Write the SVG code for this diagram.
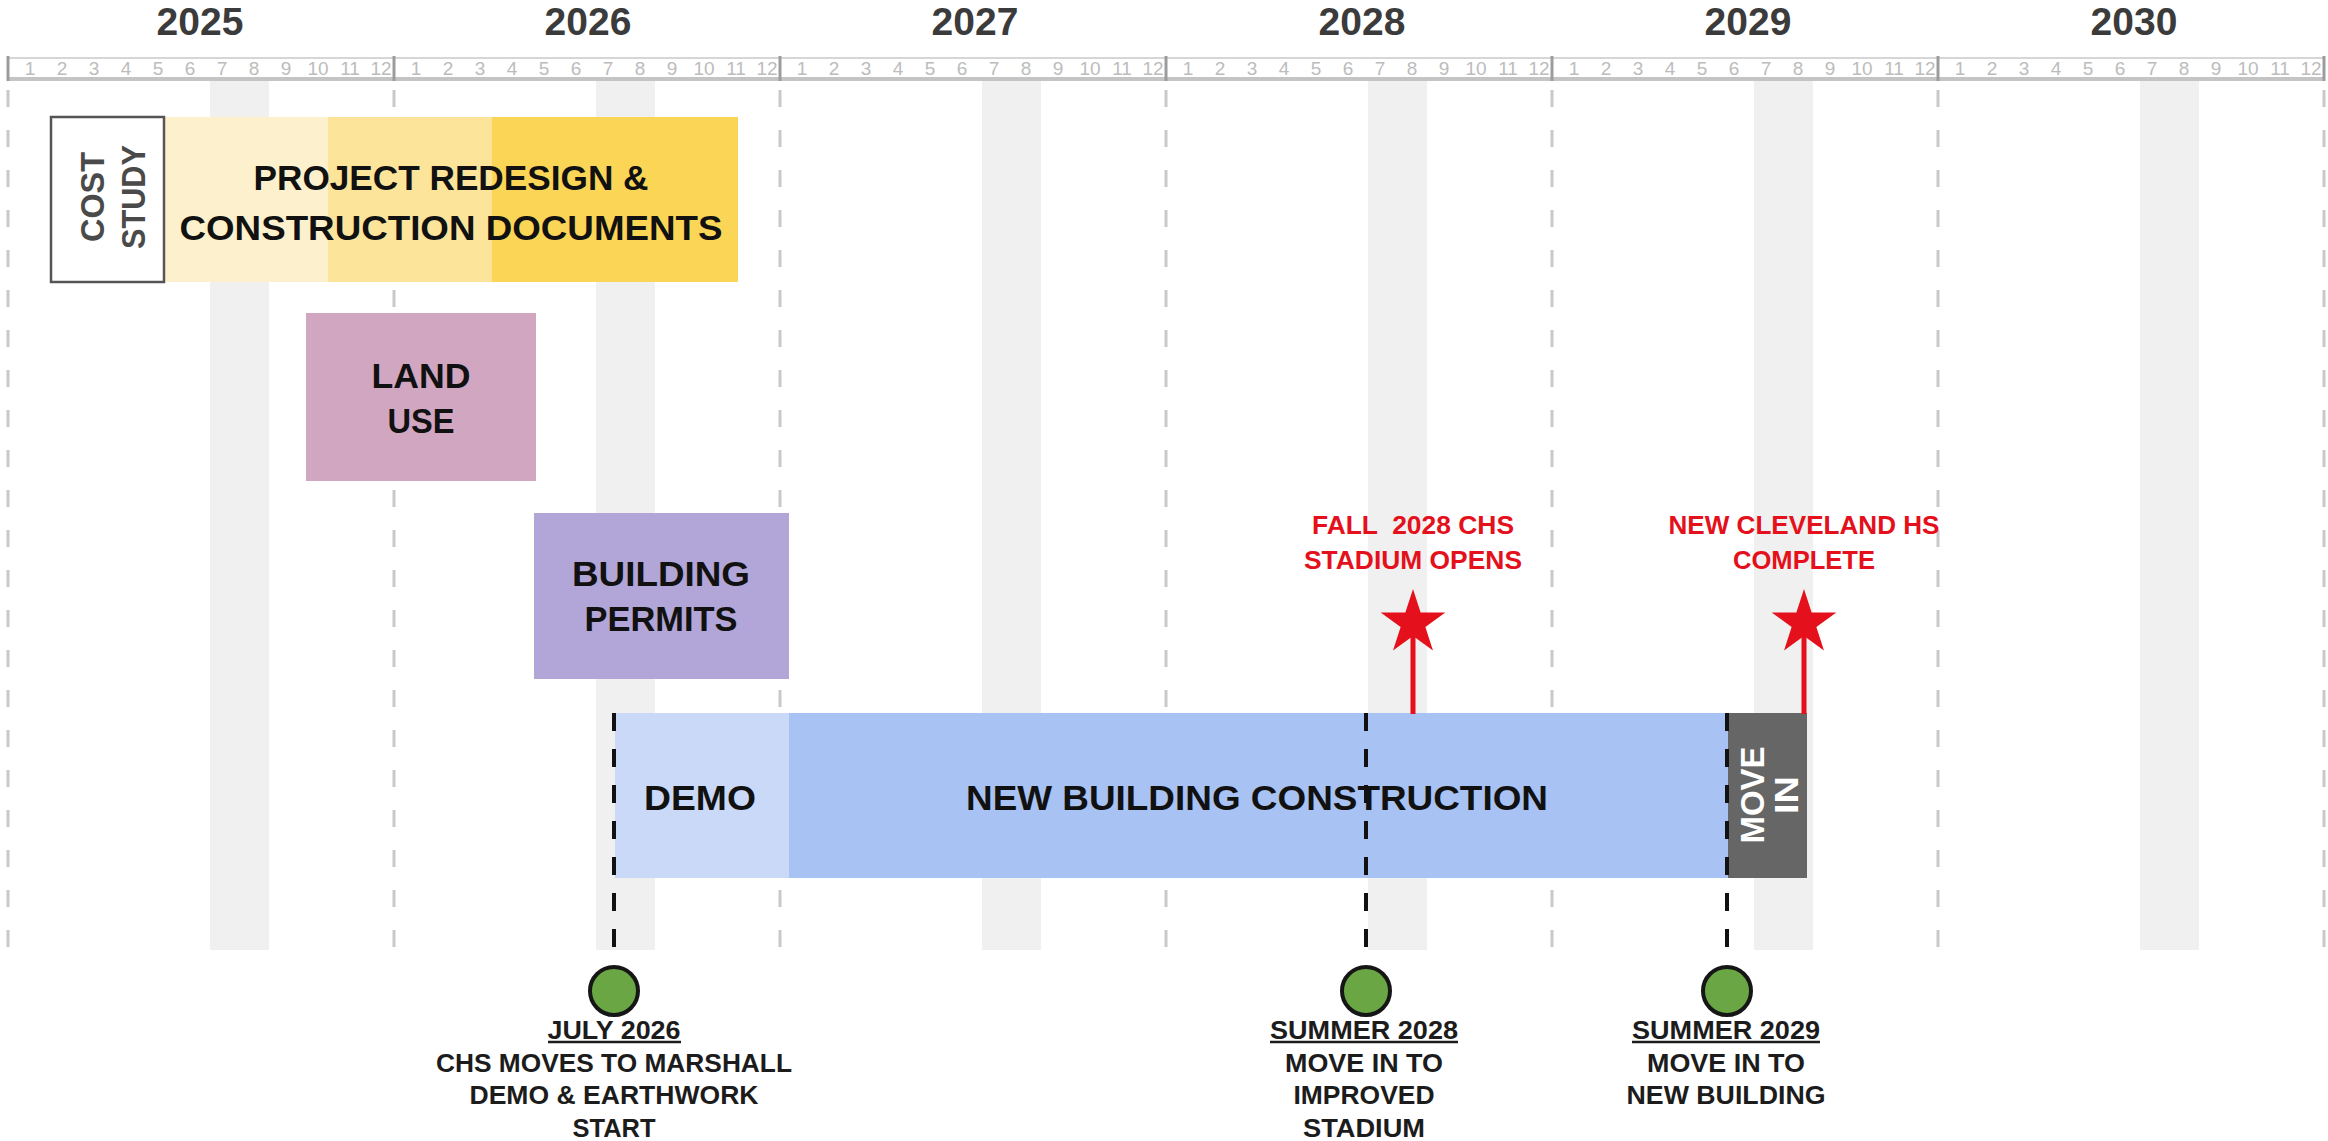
<svg xmlns="http://www.w3.org/2000/svg" width="2328" height="1141" viewBox="0 0 2328 1141">
<defs>
<style>
text{font-family:"Liberation Sans",Arial,sans-serif;font-weight:700}
.yr{font-size:39px;fill:#3b3b3b;text-anchor:middle}
.mo{font-size:19px;font-weight:400;fill:#bcbcbc;text-anchor:middle}
.band{fill:#f0f0f0}
.grid{stroke:#c9c9c9;stroke-width:3;stroke-dasharray:17 23;fill:none}
.mile{stroke:#111;stroke-width:4;stroke-dasharray:18 18;fill:none}
.lbl{font-size:35px;fill:#111;text-anchor:middle}
.red{font-size:26px;fill:#e4101b;text-anchor:middle}
.ms{font-size:25px;fill:#1c1c1c;text-anchor:middle}
.stem{stroke:#e4101b;stroke-width:5}
.dot{fill:#6aa744;stroke:#161616;stroke-width:4}
.ul{stroke:#1c1c1c;stroke-width:2.5}
.rtop{stroke:#d6d6d6;stroke-width:2}
.rbot{stroke:#c4c4c4;stroke-width:4}
.rsep{stroke:#9c9c9c;stroke-width:3}
</style>
<polygon id="star" points="0,-34 7.64,-10.52 32.34,-10.51 12.36,4.02 19.98,27.51 0,13 -19.98,27.51 -12.36,4.02 -32.34,-10.51 -7.64,-10.52" fill="#e4101b"/>
</defs>
<rect x="0" y="0" width="2328" height="1141" fill="#ffffff"/>

<g id="summer-bands">
<rect class="band" x="210" y="80" width="59" height="870"/>
<rect class="band" x="596" y="80" width="59" height="870"/>
<rect class="band" x="982" y="80" width="59" height="870"/>
<rect class="band" x="1368" y="80" width="59" height="870"/>
<rect class="band" x="1754" y="80" width="59" height="870"/>
<rect class="band" x="2140" y="80" width="59" height="870"/>
</g>

<g id="year-gridlines">
<line class="grid" x1="8" y1="90" x2="8" y2="948"/>
<line class="grid" x1="394" y1="90" x2="394" y2="948"/>
<line class="grid" x1="780" y1="90" x2="780" y2="948"/>
<line class="grid" x1="1166" y1="90" x2="1166" y2="948"/>
<line class="grid" x1="1552" y1="90" x2="1552" y2="948"/>
<line class="grid" x1="1938" y1="90" x2="1938" y2="948"/>
<line class="grid" x1="2324" y1="90" x2="2324" y2="948"/>
</g>

<g id="ruler">
<rect x="8" y="57" width="2316" height="22" fill="#ffffff"/>
<line class="rtop" x1="8" y1="58" x2="2324" y2="58"/>
<line class="rbot" x1="8" y1="79" x2="2324" y2="79"/>
<line class="rsep" x1="8" y1="56" x2="8" y2="81"/>
<line class="rsep" x1="394" y1="56" x2="394" y2="81"/>
<line class="rsep" x1="780" y1="56" x2="780" y2="81"/>
<line class="rsep" x1="1166" y1="56" x2="1166" y2="81"/>
<line class="rsep" x1="1552" y1="56" x2="1552" y2="81"/>
<line class="rsep" x1="1938" y1="56" x2="1938" y2="81"/>
<line class="rsep" x1="2324" y1="56" x2="2324" y2="81"/>
<g class="months">
<text class="mo" x="30" y="75">1</text><text class="mo" x="62" y="75">2</text><text class="mo" x="94" y="75">3</text><text class="mo" x="126" y="75">4</text><text class="mo" x="158" y="75">5</text><text class="mo" x="190" y="75">6</text><text class="mo" x="222" y="75">7</text><text class="mo" x="254" y="75">8</text><text class="mo" x="286" y="75">9</text><text class="mo" x="318" y="75">10</text><text class="mo" x="350" y="75">11</text><text class="mo" x="381" y="75">12</text>
<text class="mo" x="416" y="75">1</text><text class="mo" x="448" y="75">2</text><text class="mo" x="480" y="75">3</text><text class="mo" x="512" y="75">4</text><text class="mo" x="544" y="75">5</text><text class="mo" x="576" y="75">6</text><text class="mo" x="608" y="75">7</text><text class="mo" x="640" y="75">8</text><text class="mo" x="672" y="75">9</text><text class="mo" x="704" y="75">10</text><text class="mo" x="736" y="75">11</text><text class="mo" x="767" y="75">12</text>
<text class="mo" x="802" y="75">1</text><text class="mo" x="834" y="75">2</text><text class="mo" x="866" y="75">3</text><text class="mo" x="898" y="75">4</text><text class="mo" x="930" y="75">5</text><text class="mo" x="962" y="75">6</text><text class="mo" x="994" y="75">7</text><text class="mo" x="1026" y="75">8</text><text class="mo" x="1058" y="75">9</text><text class="mo" x="1090" y="75">10</text><text class="mo" x="1122" y="75">11</text><text class="mo" x="1153" y="75">12</text>
<text class="mo" x="1188" y="75">1</text><text class="mo" x="1220" y="75">2</text><text class="mo" x="1252" y="75">3</text><text class="mo" x="1284" y="75">4</text><text class="mo" x="1316" y="75">5</text><text class="mo" x="1348" y="75">6</text><text class="mo" x="1380" y="75">7</text><text class="mo" x="1412" y="75">8</text><text class="mo" x="1444" y="75">9</text><text class="mo" x="1476" y="75">10</text><text class="mo" x="1508" y="75">11</text><text class="mo" x="1539" y="75">12</text>
<text class="mo" x="1574" y="75">1</text><text class="mo" x="1606" y="75">2</text><text class="mo" x="1638" y="75">3</text><text class="mo" x="1670" y="75">4</text><text class="mo" x="1702" y="75">5</text><text class="mo" x="1734" y="75">6</text><text class="mo" x="1766" y="75">7</text><text class="mo" x="1798" y="75">8</text><text class="mo" x="1830" y="75">9</text><text class="mo" x="1862" y="75">10</text><text class="mo" x="1894" y="75">11</text><text class="mo" x="1925" y="75">12</text>
<text class="mo" x="1960" y="75">1</text><text class="mo" x="1992" y="75">2</text><text class="mo" x="2024" y="75">3</text><text class="mo" x="2056" y="75">4</text><text class="mo" x="2088" y="75">5</text><text class="mo" x="2120" y="75">6</text><text class="mo" x="2152" y="75">7</text><text class="mo" x="2184" y="75">8</text><text class="mo" x="2216" y="75">9</text><text class="mo" x="2248" y="75">10</text><text class="mo" x="2280" y="75">11</text><text class="mo" x="2311" y="75">12</text>
</g>
</g>

<g id="years">
<text class="yr" x="200" y="35">2025</text>
<text class="yr" x="588" y="35">2026</text>
<text class="yr" x="975" y="35">2027</text>
<text class="yr" x="1362" y="35">2028</text>
<text class="yr" x="1748" y="35">2029</text>
<text class="yr" x="2134" y="35">2030</text>
</g>

<g id="project-redesign">
<rect x="164" y="117" width="164" height="165" fill="#fdf1cd"/>
<rect x="328" y="117" width="164" height="165" fill="#fce49b"/>
<rect x="492" y="117" width="246" height="165" fill="#fbd656"/>
<text class="lbl" x="451" y="190" textLength="395" lengthAdjust="spacingAndGlyphs">PROJECT REDESIGN &amp;</text>
<text class="lbl" x="451" y="240" textLength="543" lengthAdjust="spacingAndGlyphs">CONSTRUCTION DOCUMENTS</text>
</g>

<g id="cost-study">
<rect x="51" y="117" width="113" height="165" fill="#ffffff" stroke="#555555" stroke-width="2.5"/>
<text transform="translate(104,197) rotate(-90)" style="font-size:34px;fill:#4a4a4a;text-anchor:middle" textLength="90" lengthAdjust="spacingAndGlyphs">COST</text>
<text transform="translate(145,197) rotate(-90)" style="font-size:34px;fill:#4a4a4a;text-anchor:middle" textLength="104" lengthAdjust="spacingAndGlyphs">STUDY</text>
</g>

<g id="land-use">
<rect x="306" y="313" width="230" height="168" fill="#d0a6c0"/>
<text class="lbl" x="421" y="388" textLength="99" lengthAdjust="spacingAndGlyphs">LAND</text>
<text class="lbl" x="421" y="433" textLength="67" lengthAdjust="spacingAndGlyphs">USE</text>
</g>

<g id="building-permits">
<rect x="534" y="513" width="255" height="166" fill="#b1a6d7"/>
<text class="lbl" x="661" y="586" textLength="178" lengthAdjust="spacingAndGlyphs">BUILDING</text>
<text class="lbl" x="661" y="631" textLength="153" lengthAdjust="spacingAndGlyphs">PERMITS</text>
</g>

<g id="demo">
<rect x="615" y="713" width="174" height="165" fill="#c9d9f7"/>
<text class="lbl" x="700" y="810" textLength="112" lengthAdjust="spacingAndGlyphs">DEMO</text>
</g>

<g id="new-building-construction">
<rect x="789" y="713" width="939" height="165" fill="#a7c2f3"/>
<text class="lbl" x="1257" y="810" textLength="582" lengthAdjust="spacingAndGlyphs">NEW BUILDING CONSTRUCTION</text>
</g>

<g id="move-in">
<rect x="1728" y="713" width="79" height="165" fill="#666666"/>
<text transform="translate(1764,795) rotate(-90)" style="font-size:34px;fill:#ffffff;text-anchor:middle" textLength="97" lengthAdjust="spacingAndGlyphs">MOVE</text>
<text transform="translate(1798,795) rotate(-90)" style="font-size:34px;fill:#ffffff;text-anchor:middle" textLength="38" lengthAdjust="spacingAndGlyphs">IN</text>
</g>

<g id="connectors">
<line class="mile" x1="614" y1="713" x2="614" y2="952"/>
<line class="mile" x1="1366" y1="713" x2="1366" y2="952"/>
<line class="mile" x1="1727" y1="713" x2="1727" y2="952"/>
<line class="stem" x1="1413" y1="630" x2="1413" y2="714"/>
<line class="stem" x1="1804" y1="630" x2="1804" y2="714"/>
</g>

<g id="stadium-opens">
<use href="#star" x="1413" y="623"/>
<text class="red" x="1413" y="534" textLength="202" lengthAdjust="spacingAndGlyphs" xml:space="preserve">FALL  2028 CHS</text>
<text class="red" x="1413" y="569" textLength="218" lengthAdjust="spacingAndGlyphs">STADIUM OPENS</text>
</g>

<g id="hs-complete">
<use href="#star" x="1804" y="623"/>
<text class="red" x="1804" y="534" textLength="271" lengthAdjust="spacingAndGlyphs">NEW CLEVELAND HS</text>
<text class="red" x="1804" y="569" textLength="142" lengthAdjust="spacingAndGlyphs">COMPLETE</text>
</g>

<g id="july-2026">
<circle class="dot" cx="614" cy="991" r="24"/>
<text class="ms" x="614" y="1039" textLength="133" lengthAdjust="spacingAndGlyphs">JULY 2026</text>
<line class="ul" x1="548" y1="1042" x2="681" y2="1042"/>
<text class="ms" x="614" y="1072" textLength="356" lengthAdjust="spacingAndGlyphs">CHS MOVES TO MARSHALL</text>
<text class="ms" x="614" y="1104" textLength="289" lengthAdjust="spacingAndGlyphs">DEMO &amp; EARTHWORK</text>
<text class="ms" x="614" y="1137" textLength="83" lengthAdjust="spacingAndGlyphs">START</text>
</g>

<g id="summer-2028">
<circle class="dot" cx="1366" cy="991" r="24"/>
<text class="ms" x="1364" y="1039" textLength="188" lengthAdjust="spacingAndGlyphs">SUMMER 2028</text>
<line class="ul" x1="1270" y1="1042" x2="1458" y2="1042"/>
<text class="ms" x="1364" y="1072" textLength="158" lengthAdjust="spacingAndGlyphs">MOVE IN TO</text>
<text class="ms" x="1364" y="1104" textLength="141" lengthAdjust="spacingAndGlyphs">IMPROVED</text>
<text class="ms" x="1364" y="1137" textLength="122" lengthAdjust="spacingAndGlyphs">STADIUM</text>
</g>

<g id="summer-2029">
<circle class="dot" cx="1727" cy="991" r="24"/>
<text class="ms" x="1726" y="1039" textLength="188" lengthAdjust="spacingAndGlyphs">SUMMER 2029</text>
<line class="ul" x1="1632" y1="1042" x2="1820" y2="1042"/>
<text class="ms" x="1726" y="1072" textLength="158" lengthAdjust="spacingAndGlyphs">MOVE IN TO</text>
<text class="ms" x="1726" y="1104" textLength="199" lengthAdjust="spacingAndGlyphs">NEW BUILDING</text>
</g>
</svg>
